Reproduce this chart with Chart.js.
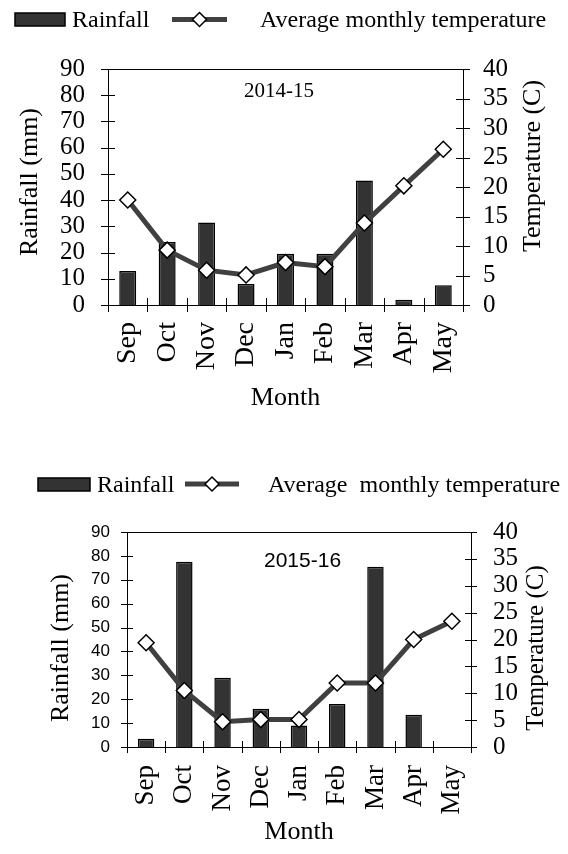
<!DOCTYPE html>
<html>
<head>
<meta charset="utf-8">
<script src="https://cdn.jsdelivr.net/npm/chart.js@4.4.1/dist/chart.umd.min.js"></script>
<style>
  html, body { margin: 0; padding: 0; background: #fff; }
  .wrap { position: absolute; left: 0; width: 568px; height: 427px; }
</style>
</head>
<body>
<div class="wrap" style="top:0"><canvas id="chartTop" width="568" height="427"></canvas></div>
<div class="wrap" style="top:427px"><canvas id="chartBottom" width="568" height="427"></canvas></div>
<script>
// Data
const months = ['Sep', 'Oct', 'Nov', 'Dec', 'Jan', 'Feb', 'Mar', 'Apr', 'May'];
const rain1415 = [13, 24, 31.5, 8, 19.5, 19.5, 47.5, 2, 7.5];
const temp1415 = [17.8, 9.3, 5.9, 5.1, 7.2, 6.5, 13.9, 20.2, 26.4];
const rain1516 = [3.5, 77.5, 29, 16, 9, 18, 75.5, 13.5, 0];
const temp1516 = [19.4, 10.5, 4.7, 5.1, 5.1, 11.9, 11.9, 20, 23.4];
const rainTicks = [0, 90, 10];  // min, max, step
const tempTicks = [0, 40, 5];

const SERIF = "'Liberation Serif', 'Times New Roman', serif";
const SANS = "'Liberation Sans', Arial, sans-serif";
const BAR_FILL = '#333333';
const LINE_COLOR = '#404040';

function diamond(ctx, x, y, r) {
  ctx.beginPath();
  ctx.moveTo(x, y - r);
  ctx.lineTo(x + r, y);
  ctx.lineTo(x, y + r);
  ctx.lineTo(x - r, y);
  ctx.closePath();
  ctx.fillStyle = '#fff';
  ctx.fill();
  ctx.strokeStyle = '#000';
  ctx.lineWidth = 1.5;
  ctx.stroke();
}

function vText(ctx, text, x, y, font) {
  ctx.save();
  ctx.translate(x, y);
  ctx.rotate(-Math.PI / 2);
  ctx.font = font;
  ctx.textAlign = 'center';
  ctx.textBaseline = 'middle';
  ctx.fillText(text, 0, 0);
  ctx.restore();
}

// frame, crossing ticks, legend, titles, year label
function decorPlugin(cfg) {
  return {
    id: 'decor',
    afterDraw(chart) {
      const ctx = chart.ctx;
      const a = chart.chartArea;
      const xs = chart.scales.x, yl = chart.scales.yRain, yr = chart.scales.yTemp;
      const t = cfg.tick;
      ctx.save();
      ctx.strokeStyle = '#000';
      ctx.lineWidth = 1;
      ctx.strokeRect(a.left + 0.5, a.top + 0.5, a.right - a.left, a.bottom - a.top);
      ctx.beginPath();
      yl.ticks.forEach(tk => {
        const py = Math.round(yl.getPixelForValue(tk.value)) + 0.5;
        ctx.moveTo(a.left - t, py); ctx.lineTo(a.left + t, py);
      });
      yr.ticks.forEach(tk => {
        const py = Math.round(yr.getPixelForValue(tk.value)) + 0.5;
        ctx.moveTo(a.right - t, py); ctx.lineTo(a.right + t, py);
      });
      for (let i = 0; i <= months.length; i++) {
        const px = Math.round(xs.getPixelForValue(i - 0.5)) + 0.5;
        ctx.moveTo(px, a.bottom - t); ctx.lineTo(px, a.bottom + t);
      }
      ctx.stroke();

      // legend
      const lg = cfg.legend;
      ctx.fillStyle = BAR_FILL;
      ctx.fillRect(lg.boxX, lg.boxY, lg.boxW, lg.boxH);
      ctx.strokeStyle = '#000';
      ctx.lineWidth = 1.5;
      ctx.strokeRect(lg.boxX, lg.boxY, lg.boxW, lg.boxH);
      ctx.beginPath();
      ctx.strokeStyle = LINE_COLOR;
      ctx.lineWidth = 5;
      ctx.moveTo(lg.lineX1, lg.lineY);
      ctx.lineTo(lg.lineX2, lg.lineY);
      ctx.stroke();
      diamond(ctx, (lg.lineX1 + lg.lineX2) / 2, lg.lineY, 7);
      ctx.fillStyle = '#000';
      ctx.font = '24px ' + SERIF;
      ctx.textAlign = 'left';
      ctx.textBaseline = 'alphabetic';
      ctx.fillText('Rainfall', lg.rainTextX, lg.textY);
      ctx.fillText(lg.tempLabel, lg.tempTextX, lg.textY);

      // year label
      ctx.font = cfg.year.font;
      ctx.fillText(cfg.year.text, cfg.year.x, cfg.year.y);

      // axis titles
      vText(ctx, 'Rainfall (mm)', cfg.leftTitle.x, cfg.leftTitle.y, cfg.leftTitle.font);
      vText(ctx, 'Temperature (C)', cfg.rightTitle.x, cfg.rightTitle.y, cfg.rightTitle.font);
      ctx.restore();
    }
  };
}

function buildChart(id, rain, temp, cfg) {
  const ctx = document.getElementById(id);
  return new Chart(ctx, {
    data: {
      labels: months,
      datasets: [
        {
          type: 'line',
          label: 'Average monthly temperature',
          data: temp,
          yAxisID: 'yTemp',
          borderColor: LINE_COLOR,
          borderWidth: 5,
          pointStyle: 'rectRot',
          pointRadius: 8,
          pointBackgroundColor: '#fff',
          pointBorderColor: '#000',
          pointBorderWidth: 1.5,
          tension: 0,
          order: 0
        },
        {
          type: 'bar',
          label: 'Rainfall',
          data: rain,
          yAxisID: 'yRain',
          backgroundColor: BAR_FILL,
          borderColor: '#000',
          borderWidth: 1.5,
          barPercentage: 0.43,
          categoryPercentage: 1,
          order: 1
        }
      ]
    },
    options: {
      responsive: false,
      animation: false,
      devicePixelRatio: 1,
      layout: { padding: { top: cfg.padTop, left: 0, right: 0, bottom: 0 } },
      plugins: {
        legend: { display: false },
        tooltip: { enabled: false }
      },
      scales: {
        x: {
          grid: { display: false, drawTicks: false },
          border: { display: false },
          ticks: {
            autoSkip: false,
            minRotation: 90,
            maxRotation: 90,
            padding: cfg.xPad,
            color: '#000',
            font: { family: SERIF, size: cfg.monthSize }
          },
          title: {
            display: true,
            text: 'Month',
            color: '#000',
            font: { family: SERIF, size: 26 },
            padding: { top: 0, bottom: cfg.monthPad }
          },
          afterFit: s => { s.height = cfg.xHeight; }
        },
        yRain: {
          position: 'left',
          min: rainTicks[0],
          max: rainTicks[1],
          grid: { display: false, drawTicks: false },
          border: { display: false },
          ticks: {
            stepSize: rainTicks[2],
            autoSkip: false,
            padding: cfg.leftPad,
            color: '#000',
            font: cfg.leftTickFont
          },
          afterFit: s => { s.width = cfg.leftW; }
        },
        yTemp: {
          position: 'right',
          min: tempTicks[0],
          max: tempTicks[1],
          grid: { display: false, drawTicks: false },
          border: { display: false },
          ticks: {
            stepSize: tempTicks[2],
            autoSkip: false,
            padding: cfg.rightPad,
            color: '#000',
            font: { family: SERIF, size: 25 }
          },
          afterFit: s => { s.width = cfg.rightW; }
        }
      }
    },
    plugins: [decorPlugin(cfg)]
  });
}

buildChart('chartTop', rain1415, temp1415, {
  padTop: 69, leftW: 108, rightW: 105, xHeight: 122,
  xPad: 17, monthSize: 28, monthPad: 13, leftPad: 23, rightPad: 20, tick: 7,
  leftTickFont: { family: SERIF, size: 25 },
  legend: {
    boxX: 15, boxY: 13, boxW: 50, boxH: 13, rainTextX: 72, textY: 27,
    lineX1: 172, lineX2: 227, lineY: 19.5,
    tempTextX: 260, tempLabel: 'Average monthly temperature'
  },
  year: { text: '2014-15', x: 244, y: 97, font: '21px ' + SERIF },
  leftTitle: { x: 30, y: 182, font: '26px ' + SERIF },
  rightTitle: { x: 533, y: 166, font: '26px ' + SERIF }
});

buildChart('chartBottom', rain1516, temp1516, {
  padTop: 105, leftW: 127, rightW: 97, xHeight: 107,
  xPad: 18, monthSize: 27, monthPad: 6, leftPad: 17, rightPad: 22, tick: 6,
  leftTickFont: { family: SANS, size: 17 },
  legend: {
    boxX: 38, boxY: 51, boxW: 52, boxH: 13, rainTextX: 97, textY: 65,
    lineX1: 185, lineX2: 239, lineY: 57,
    tempTextX: 268, tempLabel: 'Average  monthly temperature'
  },
  year: { text: '2015-16', x: 264, y: 140, font: '21px ' + SANS },
  leftTitle: { x: 61, y: 221, font: '26px ' + SERIF },
  rightTitle: { x: 536, y: 221, font: '25px ' + SERIF }
});
</script>
</body>
</html>
